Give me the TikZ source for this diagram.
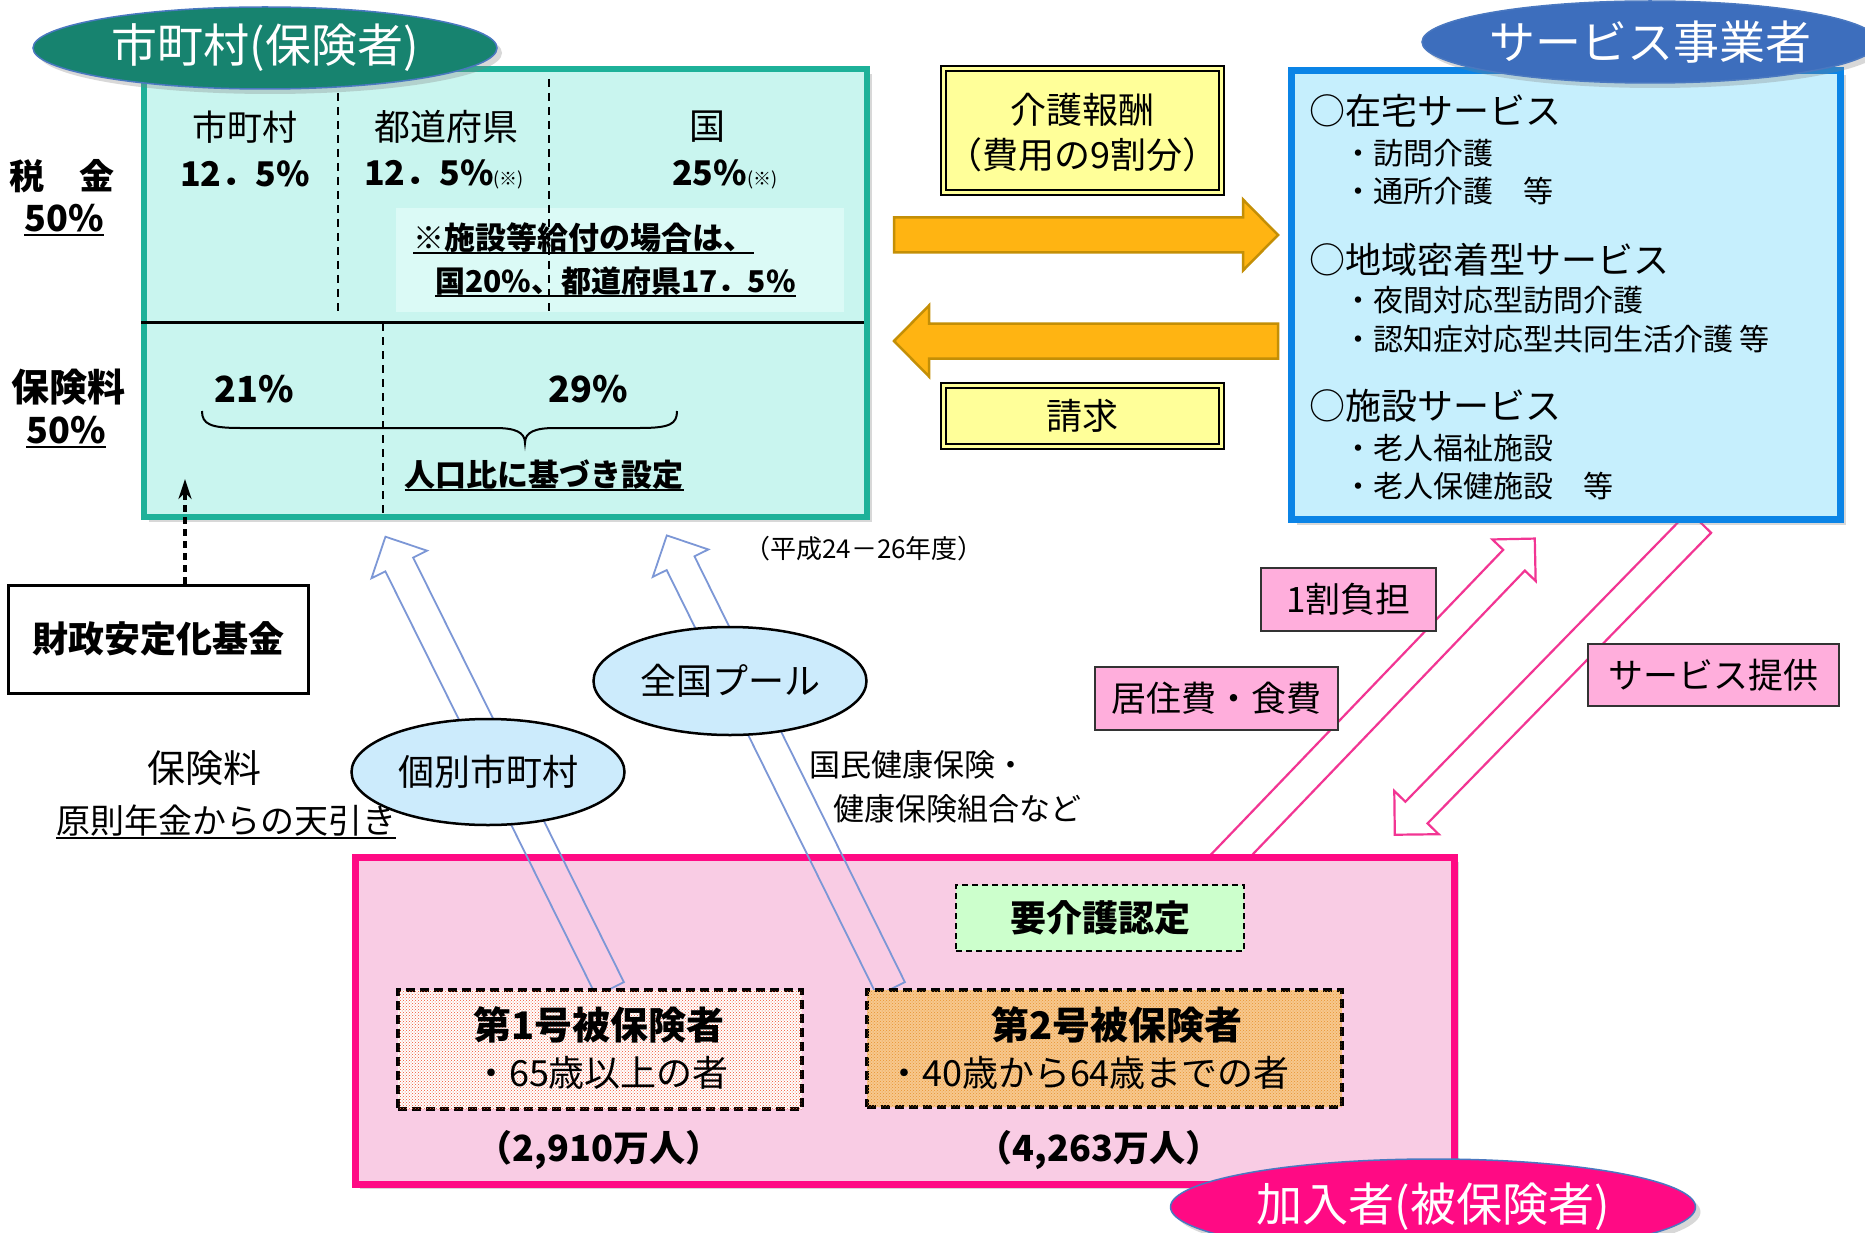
\documentclass[tikz,border=0pt]{standalone}
\usepackage{fontspec}
\setmainfont{Noto Sans CJK JP}
\usetikzlibrary{shapes.geometric,arrows.meta,shadows,patterns}
\definecolor{tealline}{HTML}{1DB199}
\definecolor{tealfill}{HTML}{C9F5EF}
\definecolor{notefill}{HTML}{DBFAF6}
\definecolor{tealell}{HTML}{17836F}
\definecolor{ellline}{HTML}{4A78C0}
\definecolor{blueline}{HTML}{0B84E6}
\definecolor{bluefill}{HTML}{C6EFFD}
\definecolor{blueell}{HTML}{3D6EBD}
\definecolor{pinkline}{HTML}{FF0A84}
\definecolor{pinkfill}{HTML}{F9CCE4}
\definecolor{yelfill}{HTML}{FFFF99}
\definecolor{orfill}{HTML}{FFB412}
\definecolor{orline}{HTML}{C48F06}
\definecolor{lblpink}{HTML}{FFAEDC}
\definecolor{greenfill}{HTML}{CCFFCC}
\definecolor{lightell}{HTML}{CCEBFC}
\definecolor{hollowblue}{HTML}{7C97D6}
\definecolor{hollowpink}{HTML}{F23593}
\definecolor{firstfill}{HTML}{FBDDD2}
\definecolor{firstdot}{HTML}{F0502E}
\definecolor{secondfill}{HTML}{F7C88E}
\definecolor{seconddot}{HTML}{E8922E}
\newcommand\jfs[1]{\fontsize{#1}{#1}\selectfont}
\newcommand\ulx[1]{\setbox0\hbox{#1}\rlap{\rule[-0.14em]{\wd0}{0.06em}}\box0}
% style, x, y, angle, length, shaft width, head width, head length
\newcommand\fatarrow[8]{%
  \begin{scope}[shift={(#2,#3)}, rotate=#4]
    \draw[#1] (0,{-#6/2}) -- ({#5-#8},{-#6/2}) -- ({#5-#8},{-#7/2}) -- (#5,0)
      -- ({#5-#8},{#7/2}) -- ({#5-#8},{#6/2}) -- (0,{#6/2}) -- cycle;
  \end{scope}}
\begin{document}
\begin{tikzpicture}[x=1pt,y=-1pt,
  every node/.style={inner sep=0pt, align=center},
  shade1/.style={drop shadow={shadow xshift=5pt, shadow yshift=-5pt, opacity=0.3}},
  dashsep/.style={line width=2pt, dash pattern=on 8pt off 6pt},
  hollowb/.style={draw=hollowblue, line width=1.8pt},
  hollowp/.style={draw=hollowpink, line width=2.2pt, fill=white},
  orarrow/.style={draw=orline, line width=2.5pt, fill=orfill},
  pinklbl/.style={draw=black!80, line width=2pt, fill=lblpink, font=\jfs{35}},
  yelbox/.style={draw=black, line width=2pt, double=yelfill, double distance=3pt, fill=yelfill},
  titleell/.style={ellipse, draw=ellline, line width=1.5pt, text=white, font=\jfs{46}, shade1},
  lightellipse/.style={ellipse, draw=black, line width=2.5pt, fill=lightell, font=\jfs{36}},
  bluehead/.style={anchor=west, font=\jfs{36}},
  blueitem/.style={anchor=west, font=\jfs{30}}
]
\useasboundingbox (0,0) rectangle (1865,1233);
\fill[white] (0,0) rectangle (1865,1233);

% ---------- municipality box ----------
\node[draw=tealline, line width=6pt, fill=tealfill, minimum width=723pt, minimum height=448pt, shade1] (tealbox) at (505.5,293) {};
\fill[notefill] (396,208) rectangle (844,312);
\draw[line width=3pt] (141,322) -- (864,322);
\draw[dashsep] (338,79) -- (338,315);
\draw[dashsep] (549,79) -- (549,315);
\draw[dashsep] (383,323) -- (383,518);

\node[font=\jfs{35}] (tmun) at (245,127) {市町村};
\node[font=\jfs{34}\bfseries] (pmun) at (245,174) {12．5\%};
\node[font=\jfs{36}] (tpref) at (446,127) {都道府県};
\node[anchor=west, font=\jfs{34}\bfseries] (ppref) at (364,174) {12．5\%{\jfs{18}\mdseries(※)}};
\node[font=\jfs{36}] (tnat) at (707,127) {国};
\node[anchor=west, font=\jfs{34}\bfseries] (pnat) at (672,174) {25\%{\jfs{18}\mdseries(※)}};
\node[anchor=west, font=\jfs{31}\bfseries] (note1) at (413,238) {\ulx{※施設等給付の場合は、}};
\node[anchor=west, font=\jfs{30}\bfseries] (note2) at (435,282) {\ulx{国20\%、都道府県17．5\%}};

\node[font=\jfs{35}\bfseries] (ltax) at (62,176) {税　金};
\node[font=\jfs{36}\bfseries] (ltaxp) at (64,220) {\ulx{50\%}};
\node[font=\jfs{38}\bfseries] (lprem) at (68,387) {保険料};
\node[font=\jfs{36}\bfseries] (lpremp) at (66,432) {\ulx{50\%}};

\node[font=\jfs{36}\bfseries] (p21) at (254,389) {21\%};
\node[font=\jfs{36}\bfseries] (p29) at (588,389) {29\%};
\draw[line width=2pt] (202,411) .. controls (202,424) and (210,428) .. (240,428) -- (495,428)
  .. controls (515,428) and (525,432) .. (525,443)
  .. controls (525,432) and (535,428) .. (555,428) -- (640,428)
  .. controls (670,428) and (677,424) .. (677,411);
\node[font=\jfs{31}\bfseries] (popl) at (544,475) {\ulx{人口比に基づき設定}};

\node[titleell, fill=tealell, minimum width=464pt, minimum height=82pt] (munell) at (265,48) {市町村(保険者)};

% ---------- fund ----------
\node[draw=black, line width=3pt, fill=white, minimum width=300pt, minimum height=108pt, font=\jfs{36}\bfseries] (fund) at (158,639) {財政安定化基金};
\coordinate (fundtip) at (185,479);
\draw[line width=4pt, dash pattern=on 7pt off 5pt, -{Stealth[length=20pt,width=13pt]}] ([xshift=27pt]fund.north) -- (fundtip);

% ---------- pink hollow arrow (co-payment, tail hidden by the box) ----------
\fatarrow{hollowp}{1215}{872}{46.2}{462}{30}{60}{30}

% ---------- insured box ----------
\node[draw=pinkline, line width=7pt, fill=pinkfill, minimum width=1099pt, minimum height=327pt, shade1] (pinkbox) at (904.5,1020.5) {};

% hollow blue arrows (premiums)
\fatarrow{hollowb}{610}{989}{116.4}{505}{31}{62}{31}
\fatarrow{hollowb}{891}{989}{116.3}{506}{31}{62}{31}

\node[draw=black, line width=2pt, dash pattern=on 6pt off 4pt, fill=greenfill, minimum width=288pt, minimum height=66pt, font=\jfs{36}\bfseries] (nintei) at (1100,918) {要介護認定};
\node[draw=black, line width=3.5pt, dash pattern=on 9pt off 5pt, fill=white, postaction={pattern=crosshatch dots, pattern color=firstdot}, minimum width=404pt, minimum height=119pt] (first) at (600,1049.5) {};
\node[draw=black, line width=3.5pt, dash pattern=on 9pt off 5pt, fill=secondfill, postaction={pattern=crosshatch dots, pattern color=seconddot}, minimum width=475pt, minimum height=117pt] (second) at (1104.5,1048.5) {};
\node[font=\jfs{38}\bfseries] (first1) at (599,1025) {第1号被保険者};
\node[font=\jfs{36}] (first2) at (601,1073) {・65歳以上の者};
\node[font=\jfs{38}\bfseries] (second1) at (1117,1025) {第2号被保険者};
\node[font=\jfs{36}] (second2) at (1088,1073) {・40歳から64歳までの者};
\node[font=\jfs{36}\bfseries] (cnt1) at (599,1150) {（2,910万人）};
\node[font=\jfs{36}\bfseries] (cnt2) at (1099,1150) {（4,263万人）};

\node[titleell, fill=pinkline, minimum width=525pt, minimum height=96pt] (insell) at (1433,1207) {加入者(被保険者)};

% ellipses on the premium arrows
\node[lightellipse, minimum width=273pt, minimum height=106pt] (indiv) at (488,772) {個別市町村};
\node[lightellipse, minimum width=273pt, minimum height=108pt] (pool) at (730,681) {全国プール};

\node[font=\jfs{38}] (premlbl) at (204,768) {保険料};
\node[font=\jfs{34}] (pension) at (226,822) {\ulx{原則年金からの天引き}};
\node[font=\jfs{26}] (period) at (864,549) {（平成24－26年度）};
\node[anchor=west, font=\jfs{31}] (kokuho1) at (809,765) {国民健康保険・};
\node[anchor=west, font=\jfs{31}] (kokuho2) at (833,809) {健康保険組合など};

% ---------- pink hollow arrow (service provision) ----------
\fatarrow{hollowp}{1700}{522}{225.7}{437}{31}{62}{31}

% ---------- service providers ----------
\node[draw=blueline, line width=7pt, fill=bluefill, minimum width=549pt, minimum height=449pt, shade1] (bluebox) at (1566,295) {};
\node[bluehead] (s1) at (1309,111) {○在宅サービス};
\node[blueitem] (s1a) at (1343,153) {・訪問介護};
\node[blueitem] (s1b) at (1343,191) {・通所介護　等};
\node[bluehead] (s2) at (1309,260) {○地域密着型サービス};
\node[blueitem] (s2a) at (1343,300) {・夜間対応型訪問介護};
\node[blueitem] (s2b) at (1343,339) {・認知症対応型共同生活介護 等};
\node[bluehead] (s3) at (1309,406) {○施設サービス};
\node[blueitem] (s3a) at (1343,448) {・老人福祉施設};
\node[blueitem] (s3b) at (1343,486) {・老人保健施設　等};

\node[titleell, fill=blueell, minimum width=456pt, minimum height=82pt] (provell) at (1650,42) {サービス事業者};

% ---------- fee arrows ----------
\fatarrow{orarrow}{894}{235}{0}{384}{35}{71}{35}
\fatarrow{orarrow}{1278}{341}{180}{384}{35}{71}{35}
\node[yelbox, minimum width=278pt, minimum height=124pt] (fee) at (1082.5,130.5) {};
\node[font=\jfs{36}] (fee1) at (1082,110) {介護報酬};
\node[font=\jfs{36}] (fee2) at (1082,155) {（費用の9割分）};
\node[yelbox, minimum width=278pt, minimum height=61pt, font=\jfs{36}] (claim) at (1082.5,416) {請求};

% ---------- pink labels ----------
\node[pinklbl, minimum width=175pt, minimum height=63pt] (burden) at (1348.5,599.5) {1割負担};
\node[pinklbl, minimum width=243pt, minimum height=63pt] (food) at (1216.5,698.5) {居住費・食費};
\node[pinklbl, minimum width=251pt, minimum height=62pt] (provide) at (1713.5,675) {サービス提供};
\end{tikzpicture}
\end{document}
